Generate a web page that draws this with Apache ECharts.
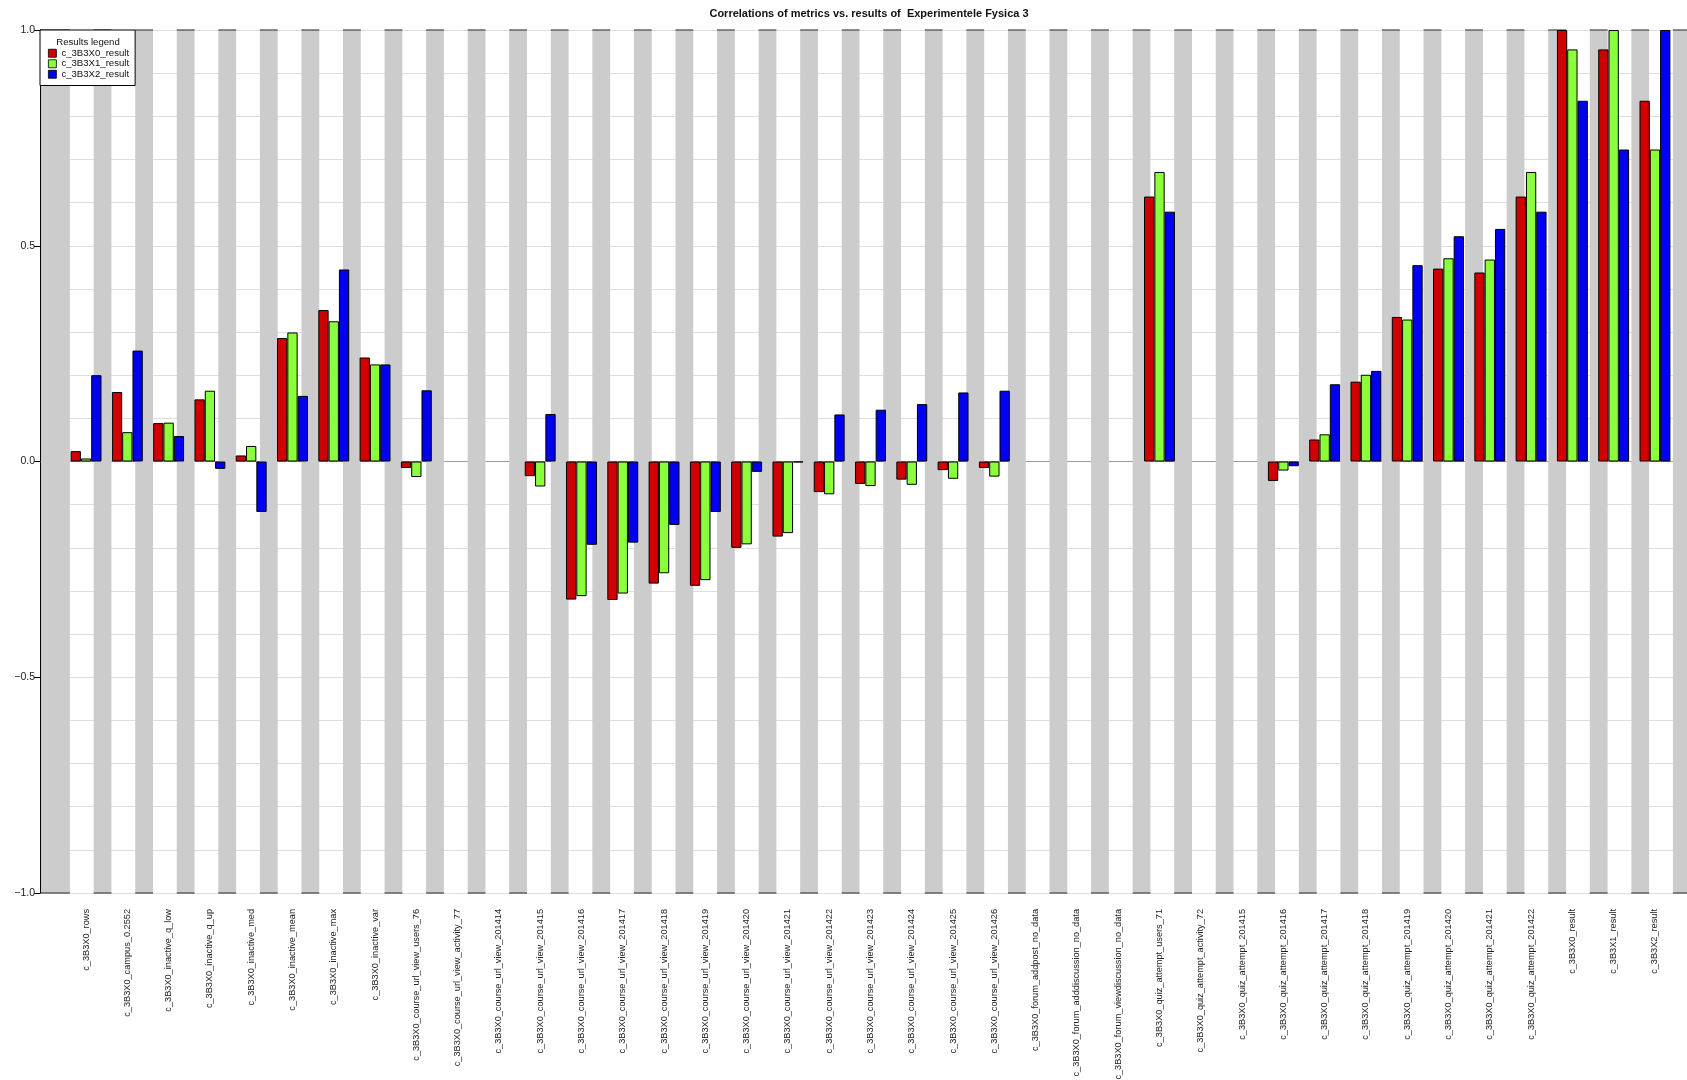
<!DOCTYPE html>
<html>
<head>
<meta charset="utf-8">
<script src="https://cdn.jsdelivr.net/npm/echarts@6/dist/echarts.min.js"></script>
<style>
  html, body { margin: 0; padding: 0; background: #fff; }
  #chart { width: 1687px; height: 1080px; }
</style>
</head>
<body>
<div id="chart"></div>
<script>
// Metric names along the x axis
const categories = [
  'c_3B3X0_rows', 'c_3B3X0_campus_0.2552', 'c_3B3X0_inactive_q_low', 'c_3B3X0_inactive_q_up',
  'c_3B3X0_inactive_med', 'c_3B3X0_inactive_mean', 'c_3B3X0_inactive_max', 'c_3B3X0_inactive_var',
  'c_3B3X0_course_url_view_users_76', 'c_3B3X0_course_url_view_activity_77',
  'c_3B3X0_course_url_view_201414', 'c_3B3X0_course_url_view_201415', 'c_3B3X0_course_url_view_201416',
  'c_3B3X0_course_url_view_201417', 'c_3B3X0_course_url_view_201418', 'c_3B3X0_course_url_view_201419',
  'c_3B3X0_course_url_view_201420', 'c_3B3X0_course_url_view_201421', 'c_3B3X0_course_url_view_201422',
  'c_3B3X0_course_url_view_201423', 'c_3B3X0_course_url_view_201424', 'c_3B3X0_course_url_view_201425',
  'c_3B3X0_course_url_view_201426', 'c_3B3X0_forum_addpost_no_data', 'c_3B3X0_forum_adddiscussion_no_data',
  'c_3B3X0_forum_viewdiscussion_no_data', 'c_3B3X0_quiz_attempt_users_71', 'c_3B3X0_quiz_attempt_activity_72',
  'c_3B3X0_quiz_attempt_201415', 'c_3B3X0_quiz_attempt_201416', 'c_3B3X0_quiz_attempt_201417',
  'c_3B3X0_quiz_attempt_201418', 'c_3B3X0_quiz_attempt_201419', 'c_3B3X0_quiz_attempt_201420',
  'c_3B3X0_quiz_attempt_201421', 'c_3B3X0_quiz_attempt_201422',
  'c_3B3X0_result', 'c_3B3X1_result', 'c_3B3X2_result'
];

// Correlation of each metric with the three results (null = no data)
const corrX0 = [0.024, 0.161, 0.089, 0.144, 0.014, 0.286, 0.351, 0.241, -0.015, null,
  null, -0.034, -0.320, -0.321, -0.283, -0.288, -0.200, -0.174, -0.071, -0.052,
  -0.042, -0.020, -0.015, null, null, null, 0.614, null, null, -0.045,
  0.051, 0.185, 0.335, 0.447, 0.438, 0.614, 1.000, 0.955, 0.836];
const corrX1 = [0.007, 0.068, 0.090, 0.164, 0.036, 0.299, 0.325, 0.225, -0.036, null,
  null, -0.058, -0.312, -0.306, -0.259, -0.275, -0.192, -0.166, -0.076, -0.057,
  -0.054, -0.040, -0.035, null, null, null, 0.671, null, null, -0.021,
  0.063, 0.201, 0.329, 0.471, 0.468, 0.671, 0.955, 1.000, 0.723];
const corrX2 = [0.200, 0.257, 0.059, -0.017, -0.117, 0.152, 0.445, 0.225, 0.165, null,
  null, 0.110, -0.193, -0.188, -0.147, -0.117, -0.024, -0.002, 0.109, 0.120,
  0.133, 0.160, 0.164, null, null, null, 0.579, null, null, -0.011,
  0.179, 0.210, 0.455, 0.522, 0.539, 0.579, 0.836, 0.723, 1.000];

const seriesNames = ['c_3B3X0_result', 'c_3B3X1_result', 'c_3B3X2_result'];
const seriesColors = ['#d00000', '#8cff3c', '#0000f0'];

// Background band layout, in band units on a hidden value axis
const BAND_COUNT = 40;
const BAND_START = 0.291;
const BAND_END = 0.719;
const BAND_AXIS_MAX = 39.63;

const bands = [];
for (let k = 0; k < BAND_COUNT; k++) {
  bands.push([k === 0 ? 0 : k + BAND_START, k + BAND_END]);
}

const FONT = '"Liberation Sans", Arial, Helvetica, sans-serif';
const chart = echarts.init(document.getElementById('chart'), null, { renderer: 'canvas' });

const minus = v => v.toFixed(1).replace('-', '\u2212');

chart.setOption({
  backgroundColor: '#ffffff',
  animation: false,
  textStyle: { fontFamily: FONT },
  graphic: [
    {
      type: 'text', x: 869, y: 14, z: 100,
      style: {
        text: 'Correlations of metrics vs. results of  Experimentele Fysica 3',
        fontFamily: FONT, fontSize: 11, fontWeight: 'bold', fill: '#111',
        align: 'center', verticalAlign: 'middle'
      }
    },
    {
      type: 'text', x: 88, y: 42.5, z: 100,
      style: {
        text: 'Results legend', fontFamily: FONT, fontSize: 9.6, fill: '#111',
        align: 'center', verticalAlign: 'middle'
      }
    }
  ],
  legend: {
    data: seriesNames,
    orient: 'vertical',
    left: 40, top: 30,
    padding: [18, 6, 6, 8],
    itemWidth: 8, itemHeight: 8, itemGap: 0,
    backgroundColor: '#ffffff',
    borderColor: '#000000', borderWidth: 1, borderRadius: 0,
    z: 50,
    icon: 'rect',
    itemStyle: { borderColor: '#000', borderWidth: 0.8 },
    textStyle: { fontFamily: FONT, fontSize: 9.6, color: '#111', lineHeight: 10.5, padding: [0, 0, 0, 0] },
    selectedMode: false
  },
  grid: [
    { left: 65.4, right: 11.4, top: 30, bottom: 187, outerBoundsMode: 'none', containLabel: false },
    { left: 40, right: 0, top: 30, bottom: 187, outerBoundsMode: 'none', containLabel: false }
  ],
  xAxis: [
    {
      type: 'category', gridIndex: 0, data: categories,
      axisLine: { show: false }, axisTick: { show: false }, splitLine: { show: false },
      axisLabel: { rotate: 90, interval: 0, fontSize: 9.2, color: '#222', margin: 16, fontFamily: FONT }
    },
    {
      type: 'value', gridIndex: 1, min: 0, max: BAND_AXIS_MAX, position: 'top',
      axisLine: { show: true, lineStyle: { color: '#9a9a9a', width: 1 } },
      axisTick: { show: false }, axisLabel: { show: false }, splitLine: { show: false }
    },
    {
      type: 'value', gridIndex: 1, min: 0, max: BAND_AXIS_MAX, position: 'bottom',
      axisLine: { show: true, lineStyle: { color: '#9a9a9a', width: 1 } },
      axisTick: { show: false }, axisLabel: { show: false }, splitLine: { show: false }
    }
  ],
  yAxis: [
    { type: 'value', gridIndex: 0, min: -1, max: 1, show: false, position: 'left' },
    {
      type: 'value', gridIndex: 1, min: -1, max: 1, interval: 0.5, position: 'left',
      axisLine: { show: false }, axisTick: { show: false }, axisLabel: { show: false },
      splitLine: { show: true, lineStyle: { color: '#dedede', width: 1 } },
      minorTick: { show: false, splitNumber: 5 },
      minorSplitLine: { show: true, lineStyle: { color: '#dedede', width: 1 } }
    },
    {
      type: 'value', gridIndex: 1, min: -1, max: 1, interval: 0.5, z: 10, position: 'left', offset: 0,
      axisLine: { show: true, lineStyle: { color: '#000', width: 1 } },
      axisTick: { show: true, length: 6, lineStyle: { color: '#000', width: 1 } },
      axisLabel: { color: '#222', fontSize: 10.5, margin: 5, fontFamily: FONT, formatter: minus },
      splitLine: { show: false }
    }
  ],
  series: [
    {
      type: 'custom', name: 'bands', xAxisIndex: 1, yAxisIndex: 1, z: 1,
      silent: true,
      data: bands,
      encode: { x: [0, 1] },
      renderItem: function (params, api) {
        const a = api.coord([api.value(0), 1]);
        const b = api.coord([api.value(1), -1]);
        return {
          type: 'group',
          children: [
            { type: 'rect', shape: { x: a[0], y: a[1], width: b[0] - a[0], height: b[1] - a[1] },
              style: { fill: '#cccccc' } },
            { type: 'line', shape: { x1: a[0], y1: a[1], x2: b[0], y2: a[1] },
              style: { stroke: '#444', lineWidth: 1.2 } },
            { type: 'line', shape: { x1: a[0], y1: b[1], x2: b[0], y2: b[1] },
              style: { stroke: '#444', lineWidth: 1.2 } }
          ]
        };
      }
    },
    ...[corrX0, corrX1, corrX2].map((vals, i) => ({
      type: 'bar', name: seriesNames[i], xAxisIndex: 0, yAxisIndex: 0, z: 3,
      data: vals,
      barWidth: 10.3, barGap: '0%',
      itemStyle: { color: seriesColors[i], borderColor: '#000', borderWidth: 1 },
      emphasis: { disabled: true }
    }))
  ]
});
</script>
</body>
</html>
